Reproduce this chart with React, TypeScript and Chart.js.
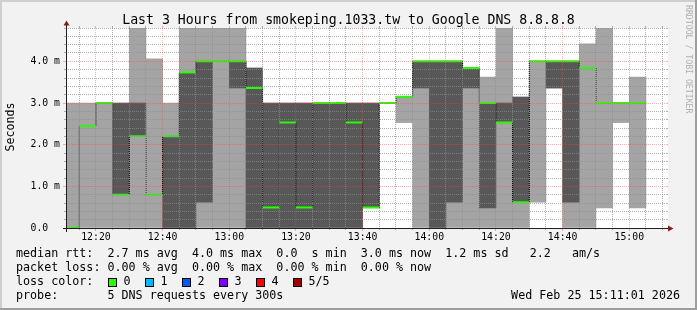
import React, { useEffect, useRef } from 'react';
import { Chart, registerables } from 'chart.js';

Chart.register(...registerables);

// ---------------- data ----------------
const chartTitle = 'Last 3 Hours from smokeping.1033.tw to Google DNS 8.8.8.8';
const yAxisTitle = 'Seconds';
const watermarkText = 'RRDTOOL / TOBI OETIKER';
const rangeStart = '12:11:01';
const rangeEnd = '15:11:01';
const stepMinutes = 5;

const intervalStarts = [
  '12:10', '12:15', '12:20', '12:25', '12:30', '12:35', '12:40', '12:45', '12:50', '12:55',
  '13:00', '13:05', '13:10', '13:15', '13:20', '13:25', '13:30', '13:35', '13:40', '13:45',
  '13:50', '13:55', '14:00', '14:05', '14:10', '14:15', '14:20', '14:25', '14:30', '14:35',
  '14:40', '14:45', '14:50', '14:55', '15:00',
];

// outer smoke band (ping 1 .. ping 5), ms
const smokeOuterLow = [
  0, 0, 0, 0, 0, 0, 0, 0, 0, 0,
  0, 0, 0, 0, 0, 0, 0, 0, 0.49, null,
  2.53, 0, 0, 0, 0, 0, 0, 0, 0.62, 3.36,
  0, 0, 0.48, 2.53, 0.48,
];
const smokeOuterHigh = [
  3.0, 3.0, 3.0, 3.0, 4.9, 4.06, 3.0, 4.9, 4.9, 4.9,
  4.9, 3.84, 3.0, 3.0, 3.0, 3.0, 3.0, 3.0, 3.0, null,
  3.15, 4.0, 4.0, 4.0, 3.84, 3.62, 4.9, 3.14, 4.0, 4.0,
  4.0, 4.42, 4.9, 3.0, 3.62,
];
// inner smoke band (ping 2 .. ping 4), ms
const smokeInnerLow = [
  null, null, null, 0.8, 2.2, null, 0, 0, 0.62, null,
  3.36, 0, 0, 0, 0, 0, 0, 0, 0.49, null,
  null, 3.36, 0, 0.62, 3.36, 0.48, 2.53, 0.62, null, 3.36,
  0.62, null, null, null, null,
];
const smokeInnerHigh = [
  null, null, null, 3.0, 3.0, null, 2.2, 3.73, 4.0, null,
  4.0, 3.84, 3.0, 3.0, 3.0, 3.0, 3.0, 3.0, 3.0, null,
  null, 4.0, 4.0, 4.0, 3.84, 3.0, 3.0, 3.14, null, 4.0,
  4.0, null, null, null, null,
];
// median rtt, ms
const medianRtt = [
  0.0, 2.45, 3.0, 0.8, 2.2, 0.8, 2.2, 3.73, 4.0, 4.0,
  4.0, 3.36, 0.49, 2.53, 0.49, 3.0, 3.0, 2.53, 0.49, 3.0,
  3.15, 4.0, 4.0, 4.0, 3.84, 3.0, 2.53, 0.62, 4.0, 4.0,
  4.0, 3.84, 3.0, 3.0, 3.0,
];

const xTickLabels = ['12:20', '12:40', '13:00', '13:20', '13:40', '14:00', '14:20', '14:40', '15:00'];
const yTickValues = [0, 1, 2, 3, 4];
const yTickLabels = ['0.0  ', '1.0 m', '2.0 m', '3.0 m', '4.0 m'];
const yMax = 4.8;
const yMinorStep = 0.2;

const statLines = [
  'median rtt:  2.7 ms avg  4.0 ms max  0.0  s min  3.0 ms now  1.2 ms sd   2.2   am/s',
  'packet loss: 0.00 % avg  0.00 % max  0.00 % min  0.00 % now',
];
const lossTitle = 'loss color:';
const lossLabels = ['0', '1', '2', '3', '4', '5/5'];
const lossColors = ['#26ff00', '#00b8ff', '#0059ff', '#7e00ff', '#ff0000', '#a10000'];
const probeText = 'probe:       5 DNS requests every 300s';
const dateText = 'Wed Feb 25 15:11:01 2026';

// ---------------- helpers ----------------
const toMin = (s: string) => {
  const p = s.split(':').map(Number);
  return p[0] * 60 + p[1] + (p[2] || 0) / 60;
};
const xMin = toMin(rangeStart);
const xMax = toMin(rangeEnd);
const starts = intervalStarts.map(toMin);
const majorX = xTickLabels.map(toMin);
const isMajorX = (v: number) => majorX.some((m) => Math.abs(m - v) < 1e-6);
const isMajorY = (v: number) => yTickValues.some((m) => Math.abs(m - v) < 1e-6);

const GRID_MINOR = 'rgba(143,143,143,0.7)';
const GRID_MAJOR = 'rgba(222,79,79,0.42)';
const MONO = '"DejaVu Sans Mono", monospace';

const outerData = starts.map((s, i) => ({
  x: s + stepMinutes / 2,
  y: smokeOuterLow[i] == null ? null : [smokeOuterLow[i], smokeOuterHigh[i]],
}));
const innerData = starts.map((s, i) => ({
  x: s + stepMinutes / 2,
  y: smokeInnerLow[i] == null ? null : [smokeInnerLow[i], smokeInnerHigh[i]],
}));
const stepData = starts.map((s, i) => ({ x: s, y: medianRtt[i] }));
stepData.push({ x: starts[starts.length - 1] + stepMinutes, y: medianRtt[medianRtt.length - 1] });
const medianSegs: { x: number; y: number | null }[] = [];
starts.forEach((s, i) => {
  medianSegs.push({ x: s, y: medianRtt[i] });
  medianSegs.push({ x: s + stepMinutes, y: medianRtt[i] });
  medianSegs.push({ x: s + stepMinutes, y: null });
});

const xGridTicks: number[] = [];
for (let v = Math.ceil(xMin / stepMinutes) * stepMinutes; v < xMax; v += stepMinutes) xGridTicks.push(v);
const yGridTicks: number[] = [];
for (let k = 0; k * yMinorStep <= yMax + 1e-9; k++) yGridTicks.push(Math.round(k * yMinorStep * 1000) / 1000);

const rrdPlugin = {
  id: 'rrdDecor',
  beforeDraw(chart: any) {
    const { ctx, width, height, chartArea: a } = chart;
    ctx.save();
    ctx.fillStyle = '#f2f2f2';
    ctx.fillRect(0, 0, width, height);
    ctx.fillStyle = '#cfcfcf';
    ctx.fillRect(0, 0, width, 2);
    ctx.fillRect(0, 0, 2, height);
    ctx.fillStyle = '#9e9e9e';
    ctx.fillRect(0, height - 2, width, 2);
    ctx.fillRect(width - 2, 0, 2, height);
    ctx.fillStyle = '#ffffff';
    ctx.fillRect(a.left, a.top, a.right - a.left + 2, a.bottom - a.top);
    ctx.restore();
  },
  afterDraw(chart: any) {
    const { ctx, chartArea: a, width } = chart;
    const xs = chart.scales.x;
    const ys = chart.scales.y;
    ctx.save();
    ctx.lineWidth = 1;
    // small grid extensions outside the canvas
    xs.ticks.forEach((t: any) => {
      const px = Math.round(xs.getPixelForValue(t.value) - 0.5) + 0.5;
      ctx.strokeStyle = isMajorX(t.value) ? GRID_MAJOR : GRID_MINOR;
      ctx.beginPath();
      ctx.moveTo(px, a.bottom);
      ctx.lineTo(px, a.bottom + (isMajorX(t.value) ? 3 : 2));
      ctx.moveTo(px, a.top - 2);
      ctx.lineTo(px, a.top);
      ctx.stroke();
    });
    ys.ticks.forEach((t: any) => {
      const py = Math.round(ys.getPixelForValue(t.value) - 0.5) + 0.5;
      ctx.strokeStyle = isMajorY(t.value) ? GRID_MAJOR : GRID_MINOR;
      ctx.beginPath();
      ctx.moveTo(a.left - (isMajorY(t.value) ? 3 : 2), py);
      ctx.lineTo(a.left, py);
      ctx.moveTo(a.right, py);
      ctx.lineTo(a.right + 2, py);
      ctx.stroke();
    });
    // axes
    ctx.strokeStyle = '#1f1f1f';
    ctx.beginPath();
    ctx.moveTo(a.left - 3, a.bottom + 0.5);
    ctx.lineTo(a.right + 4, a.bottom + 0.5);
    ctx.stroke();
    ctx.beginPath();
    ctx.moveTo(a.left + 0.5, a.bottom + 4);
    ctx.lineTo(a.left + 0.5, a.top - 4);
    ctx.stroke();
    // arrows
    ctx.fillStyle = '#801f1f';
    ctx.beginPath();
    ctx.moveTo(a.right + 2, a.bottom - 2.5);
    ctx.lineTo(a.right + 2, a.bottom + 3.5);
    ctx.lineTo(a.right + 7.5, a.bottom + 0.5);
    ctx.closePath();
    ctx.fill();
    ctx.beginPath();
    ctx.moveTo(a.left - 2.5, a.top - 2.5);
    ctx.lineTo(a.left + 3.5, a.top - 2.5);
    ctx.lineTo(a.left + 0.5, a.top - 7.5);
    ctx.closePath();
    ctx.fill();

    // title
    ctx.fillStyle = '#000';
    ctx.font = '13.2px ' + MONO;
    ctx.textAlign = 'center';
    ctx.textBaseline = 'alphabetic';
    ctx.fillText(chartTitle, width / 2, 24);

    // y axis title
    ctx.save();
    ctx.translate(11, 127);
    ctx.rotate(-Math.PI / 2);
    ctx.font = '11.6px ' + MONO;
    ctx.textAlign = 'center';
    ctx.textBaseline = 'middle';
    ctx.fillText(yAxisTitle, 0, 0);
    ctx.restore();

    // watermark
    ctx.save();
    ctx.translate(688, 5);
    ctx.rotate(Math.PI / 2);
    ctx.font = '8.2px ' + MONO;
    ctx.fillStyle = '#b0b0b0';
    ctx.textAlign = 'left';
    ctx.textBaseline = 'middle';
    ctx.fillText(watermarkText, 0, 0);
    ctx.restore();

    // legend
    ctx.font = '11.7px ' + MONO;
    ctx.fillStyle = '#000';
    ctx.textAlign = 'left';
    ctx.textBaseline = 'middle';
    ctx.fillText(statLines[0], 16, 254);
    ctx.fillText(statLines[1], 16, 268);
    ctx.fillText(lossTitle, 16, 282);
    lossLabels.forEach((lab, i) => {
      const bx = 108 + i * 37;
      ctx.fillStyle = lossColors[i];
      ctx.fillRect(bx, 278, 9, 9);
      ctx.strokeStyle = '#000';
      ctx.strokeRect(bx + 0.5, 278.5, 8, 8);
      ctx.fillStyle = '#000';
      ctx.fillText(lab, bx + 15.5, 282);
    });
    ctx.fillText(probeText, 16, 296);
    ctx.textAlign = 'right';
    ctx.fillText(dateText, 680, 296);
    ctx.restore();
  },
};

export default function App() {
  const ref = useRef<HTMLCanvasElement>(null);
  useEffect(() => {
    document.body.style.margin = '0';
    const canvas = ref.current;
    if (!canvas) return;
    const chart = new Chart(canvas, {
      type: 'line',
      data: {
        datasets: [
          {
            type: 'line',
            label: 'median',
            data: medianSegs as any,
            borderColor: lossColors[0],
            borderWidth: 2,
            pointRadius: 0,
            spanGaps: false,
            clip: 0,
            order: 0,
          },
          {
            type: 'line',
            label: 'median step',
            data: stepData as any,
            borderColor: '#000000',
            borderWidth: 1,
            borderDash: [1, 1],
            stepped: true,
            pointRadius: 0,
            clip: 0,
            order: 1,
          },
          {
            type: 'bar',
            label: 'smoke inner',
            data: innerData as any,
            backgroundColor: '#585858',
            borderWidth: 0,
            grouped: false,
            barPercentage: 1,
            categoryPercentage: 1,
            clip: 0,
            order: 2,
          },
          {
            type: 'bar',
            label: 'smoke outer',
            data: outerData as any,
            backgroundColor: '#a4a4a4',
            borderWidth: 0,
            grouped: false,
            barPercentage: 1,
            categoryPercentage: 1,
            clip: 0,
            order: 3,
          },
        ] as any,
      },
      options: {
        animation: false,
        responsive: false,
        devicePixelRatio: 1,
        events: [],
        layout: { padding: { left: 6, right: 31, top: 28, bottom: 62 } },
        plugins: {
          legend: { display: false },
          tooltip: { enabled: false },
          title: { display: false },
        },
        scales: {
          x: {
            type: 'linear',
            min: xMin,
            max: xMax,
            offset: false,
            afterFit: (s: any) => {
              s.height = 20;
            },
            afterBuildTicks: (s: any) => {
              s.ticks = xGridTicks.map((v) => ({ value: v }));
            },
            grid: {
              display: true,
              drawTicks: false,
              offset: false,
              z: 1,
              lineWidth: 1,
              color: (c: any) => (c.tick && isMajorX(c.tick.value) ? GRID_MAJOR : GRID_MINOR),
            },
            border: { display: false, dash: [1, 1] },
            ticks: {
              autoSkip: false,
              maxRotation: 0,
              minRotation: 0,
              padding: 3,
              color: '#000',
              font: { family: MONO, size: 9.8, lineHeight: 1.25 },
              callback: (v: any) => {
                const idx = majorX.findIndex((m) => Math.abs(m - Number(v)) < 1e-6);
                return idx >= 0 ? xTickLabels[idx] : '';
              },
            },
          },
          y: {
            type: 'linear',
            min: 0,
            max: yMax,
            afterFit: (s: any) => {
              s.width = 60;
            },
            afterBuildTicks: (s: any) => {
              s.ticks = yGridTicks.map((v) => ({ value: v }));
            },
            grid: {
              display: true,
              drawTicks: false,
              z: 1,
              lineWidth: 1,
              color: (c: any) => {
                if (!c.tick) return GRID_MINOR;
                if (Math.abs(c.tick.value) < 1e-9) return 'rgba(0,0,0,0)';
                return isMajorY(c.tick.value) ? GRID_MAJOR : GRID_MINOR;
              },
            },
            border: { display: false, dash: [1, 1] },
            ticks: {
              autoSkip: false,
              padding: 6,
              color: '#000',
              font: { family: MONO, size: 9.8, lineHeight: 1.2 },
              callback: (v: any) => {
                const idx = yTickValues.findIndex((m) => Math.abs(m - Number(v)) < 1e-6);
                return idx >= 0 ? yTickLabels[idx] : '';
              },
            },
          },
        },
      } as any,
      plugins: [rrdPlugin],
    });
    return () => chart.destroy();
  }, []);
  return (
    <div style={{ position: 'absolute', left: 0, top: 0, width: 697, height: 310 }}>
      <canvas ref={ref} width={697} height={310} style={{ display: 'block', width: '697px', height: '310px' }} />
    </div>
  );
}
